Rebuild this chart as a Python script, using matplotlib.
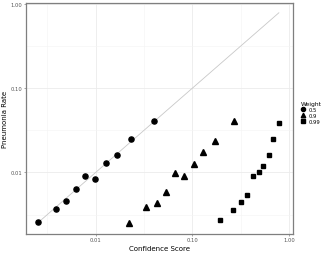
import matplotlib
matplotlib.use("Agg")
import matplotlib.pyplot as plt
import numpy as np

# data (log-log)
conf_05 = [0.00254, 0.00387, 0.00499, 0.00626, 0.00776, 0.00984, 0.0127, 0.0166, 0.0233, 0.0405]
rate_05 = [0.00259, 0.00365, 0.00454, 0.00636, 0.00906, 0.00835, 0.0128, 0.0162, 0.0246, 0.0404]

conf_09 = [0.0220, 0.0334, 0.0428, 0.0536, 0.0664, 0.0828, 0.104, 0.130, 0.173, 0.267]
rate_09 = [0.00254, 0.00389, 0.00430, 0.00580, 0.0099, 0.00914, 0.01244, 0.01726, 0.0239, 0.0404]

conf_099 = [0.193, 0.265, 0.318, 0.369, 0.423, 0.483, 0.543, 0.612, 0.679, 0.783]
rate_099 = [0.00275, 0.00355, 0.00442, 0.00545, 0.0092, 0.0101, 0.0118, 0.0163, 0.0246, 0.0388]

weights = ["0.5", "0.9", "0.99"]
markers = ["o", "^", "s"]
sizes = [3.7, 4.0, 3.3]

x_ticks = [0.01, 0.1, 1.0]
x_ticklabels = ["0.01", "0.10", "1.00"]
y_ticks = [0.01, 0.1, 1.0]
y_ticklabels = ["0.01", "0.10", "1.00"]

GRID = "#ebebeb"
BORDER = "#7f7f7f"

fig = plt.figure(figsize=(3.3, 2.55), dpi=100)
ax = fig.add_axes([26/330, 1 - 235/255, (293-26)/330, (235-4)/255])

# identity line over the data range
allx = np.concatenate([conf_05, conf_09, conf_099])
lo, hi = allx.min(), allx.max()
ax.plot([lo, hi], [lo, hi], color="#c8c8c8", lw=0.6, zorder=1)

series = [(conf_05, rate_05), (conf_09, rate_09), (conf_099, rate_099)]
for (cx, ry), w, m, s in zip(series, weights, markers, sizes):
    ax.plot(cx, ry, ls="none", marker=m, ms=s, color="black", label=w, zorder=3)

ax.set_xscale("log")
ax.set_yscale("log")
ax.set_xlim(10**-2.72, 10**0.04)
ax.set_ylim(10**-2.73, 10**0.01)

ax.set_xticks(x_ticks)
ax.set_xticklabels(x_ticklabels)
ax.set_yticks(y_ticks)
ax.set_yticklabels(y_ticklabels)
ax.xaxis.set_minor_locator(matplotlib.ticker.FixedLocator([10**-2.5, 10**-1.5, 10**-0.5]))
ax.yaxis.set_minor_locator(matplotlib.ticker.FixedLocator([10**-2.5, 10**-1.5, 10**-0.5]))
ax.xaxis.set_minor_formatter(matplotlib.ticker.NullFormatter())
ax.yaxis.set_minor_formatter(matplotlib.ticker.NullFormatter())

ax.grid(True, which="major", color=GRID, lw=0.6, zorder=0)
ax.grid(True, which="minor", color="#f4f4f4", lw=0.4, zorder=0)
ax.set_axisbelow(True)
ax.tick_params(which="major", length=1.5, width=0.5, color=BORDER, labelsize=3.8,
               labelcolor="#555555", pad=1)
ax.tick_params(which="minor", length=0)
for sp in ax.spines.values():
    sp.set_color(BORDER)
    sp.set_linewidth(0.9)

ax.set_xlabel("Confidence Score", fontsize=5, labelpad=1.5)
ax.set_ylabel("Pneumonia Rate", fontsize=5, labelpad=2)

leg = ax.legend(title="Weight", loc="upper left", bbox_to_anchor=(1.03, 0.575),
                frameon=False, fontsize=3.8, title_fontsize=4.3,
                handlelength=0.6, handletextpad=0.8, labelspacing=0.2,
                borderaxespad=0, borderpad=0, markerscale=0.8)
leg._legend_box.align = "left"

fig.savefig("out.png", dpi=100)
